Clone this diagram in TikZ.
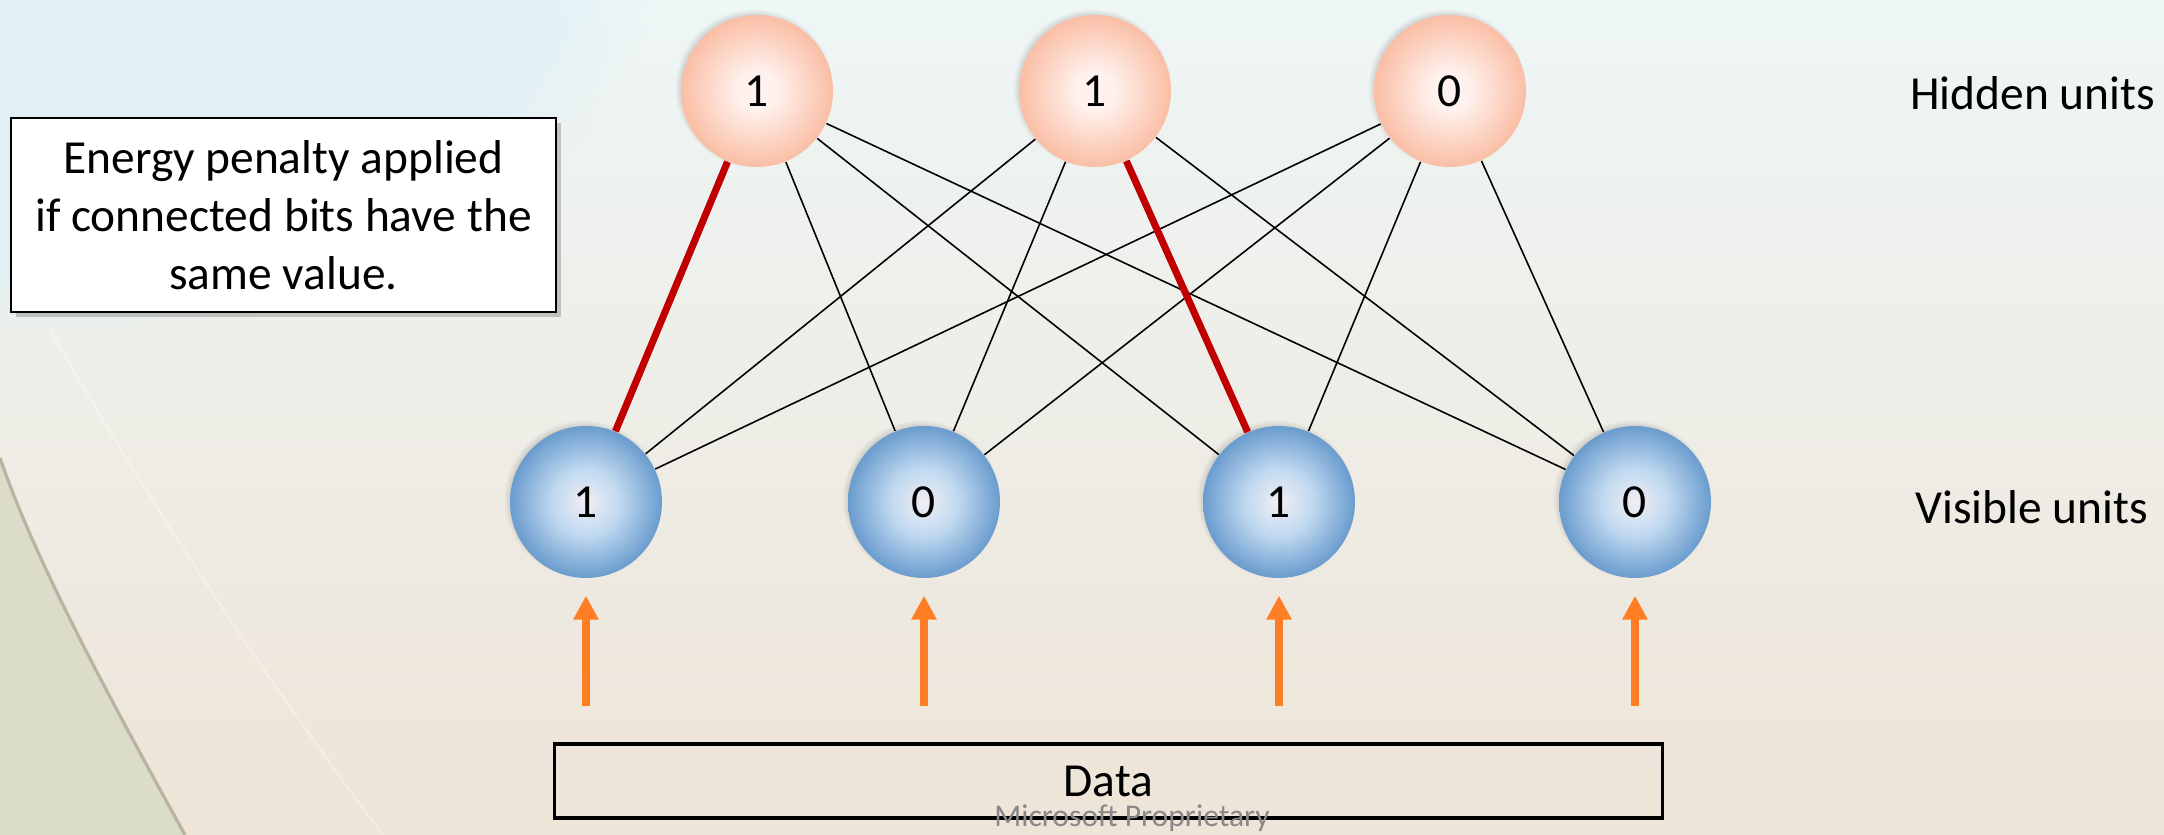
\documentclass[tikz,border=0pt]{standalone}
\usepackage{fontspec}
\setmainfont{Carlito}
\usepackage{xcolor}
\usepackage{tikz}
\usetikzlibrary{arrows.meta,shadows,fadings}
\definecolor{hidin}{RGB}{255,242,238}
\definecolor{hidout}{RGB}{250,190,165}
\definecolor{visin}{RGB}{242,238,244}
\definecolor{vismid}{RGB}{192,217,240}
\definecolor{visout}{RGB}{106,156,206}
\definecolor{penred}{RGB}{192,0,0}
\definecolor{feedorange}{RGB}{255,125,37}
\definecolor{bgtop}{RGB}{238,246,246}
\definecolor{bgmid}{RGB}{241,239,228}
\definecolor{bgbot}{RGB}{238,228,215}
\definecolor{wash}{RGB}{222,240,246}
\definecolor{rim}{RGB}{220,220,202}
\definecolor{rimline}{RGB}{185,180,160}
\definecolor{stamp}{RGB}{137,137,137}
\pgfdeclareradialshading{hidball}{\pgfpoint{0bp}{0bp}}{color(0bp)=(hidin);color(6bp)=(hidin);color(25bp)=(hidout);color(50bp)=(hidout)}
\pgfdeclareradialshading{visball}{\pgfpoint{0bp}{0bp}}{color(0bp)=(visin);color(11bp)=(vismid);color(25bp)=(visout);color(50bp)=(visout)}

\begin{document}
\begin{tikzpicture}[font=\fontsize{13.5}{16.5}\selectfont]
\tikzset{unit/.style={circle,minimum size=1.52cm,inner sep=0pt,shade,
    circular drop shadow={shadow xshift=-0.03cm,shadow yshift=0.03cm,shadow scale=1.04,opacity=0.5}},
  hid/.style={unit,shading=hidball},
  vis/.style={unit,shading=visball},
  wire/.style={line width=0.45pt},
  hot/.style={draw=penred,line width=2pt},
  push/.style={draw=feedorange,line width=2pt,-{Triangle[width=0.24cm,length=0.24cm]}}}
\useasboundingbox (0,0) rectangle (21.64,8.35);
% backdrop
\shade[top color=bgtop,middle color=bgmid,bottom color=bgbot] (0,0) rectangle (21.64,8.35);
\fill[wash,opacity=0.8,path fading=circle with fuzzy edge 20 percent] (0.5,8.6) ellipse (6 and 3.6);
\fill[rim] (0,0) -- (0,3.77) .. controls (0.35,2.75) and (1.05,1.45) .. (1.85,0) -- cycle;
\draw[rimline,line width=0.9pt] (0,3.77) .. controls (0.35,2.75) and (1.05,1.45) .. (1.85,0);
\draw[white,opacity=0.3,line width=0.7pt] (0.5,5.05) .. controls (1.5,3.3) and (2.7,1.5) .. (3.83,0);
% hidden and visible layers
\foreach \x/\b [count=\i] in {7.57/1,10.95/1,14.50/0}\node[hid] (h\i) at (\x,7.44){\b};
\foreach \x/\b [count=\i] in {5.86/1,9.24/0,12.79/1,16.35/0}\node[vis] (v\i) at (\x,3.33){\b};
\node[anchor=west] (hl) at (18.98,7.42){Hidden units};
\node[anchor=west] (vl) at (19.03,3.28){Visible units};
% weights, penalised pairs in red
\foreach \h in {1,2,3}\foreach \v in {1,...,4}\draw[wire] (h\h) -- (v\v);
\draw[hot] (h1) -- (v1);
\draw[hot] (h2) -- (v3);
% clamped data
\node[draw,line width=1pt,minimum width=11.08cm,minimum height=0.74cm,inner sep=0pt] (data) at (11.085,0.54){Data};
\foreach \v in {1,...,4}{
  \path (v\v.south) ++(0,-1.27) coordinate (d\v);
  \draw[push,shorten >=0.17cm] (d\v) -- (v\v);
}
\node[draw,line width=0.6pt,fill=white,align=center,minimum width=5.45cm,minimum height=1.94cm,
  drop shadow={shadow xshift=0.05cm,shadow yshift=-0.05cm,opacity=0.4}] (note) at (2.835,6.20)
  {Energy penalty applied\\if connected bits have the\\same value.};
\node[anchor=base,text=stamp,font=\fontsize{9}{10}\selectfont] (mark) at (11.32,0.08){Microsoft Proprietary};
\end{tikzpicture}
\end{document}
